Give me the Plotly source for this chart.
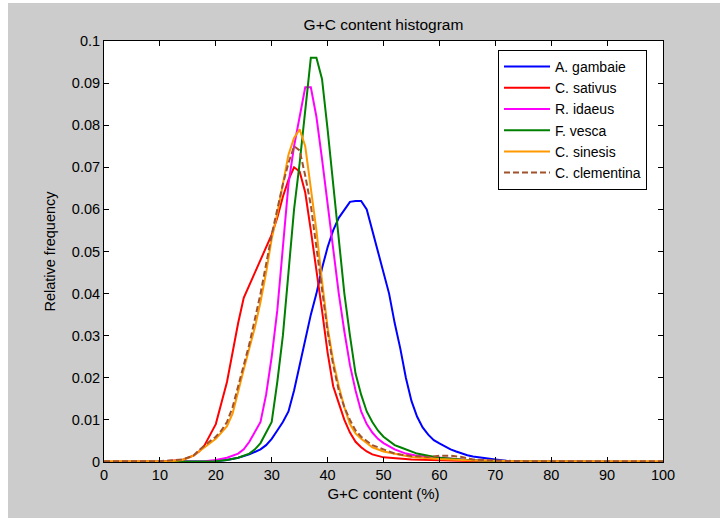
import plotly.graph_objects as go

# ---- data ----
series_names = ["A. gambaie", "C. sativus", "R. idaeus", "F. vesca", "C. sinesis", "C. clementina"]

x_gambaie = [0, 20, 22, 24, 26, 28, 29, 30, 31, 32, 33, 34, 35, 36, 37, 38, 39, 40, 41, 42, 43, 44, 45, 46,
             47, 48, 49, 50, 51, 52, 53, 54, 55, 56, 57, 58, 59, 60, 61, 62, 63, 64, 65, 66, 67, 68, 70, 72, 74, 100]
y_gambaie = [0, 0.0002, 0.0005, 0.001, 0.0018, 0.003, 0.004, 0.0055, 0.0075, 0.0095, 0.012, 0.017, 0.023,
             0.029, 0.035, 0.040, 0.046, 0.051, 0.055, 0.058, 0.060, 0.0618, 0.062, 0.062, 0.060, 0.055, 0.050,
             0.045, 0.040, 0.033, 0.027, 0.020, 0.0145, 0.0108, 0.0082, 0.0065, 0.0052, 0.0044, 0.0036, 0.003,
             0.0025, 0.002, 0.0016, 0.0013, 0.0011, 0.0009, 0.0006, 0.0003, 0.0001, 0]

x_sativus = [0, 10, 14, 15, 16, 17, 18, 19, 20, 21, 22, 23, 24, 25, 26, 27, 28, 29, 30, 31, 32, 33, 34, 35,
             36, 37, 38, 39, 40, 41, 42, 43, 44, 45, 46, 47, 48, 50, 55, 60, 65, 70, 72, 100]
y_sativus = [0, 0.0001, 0.0005, 0.001, 0.0015, 0.0025, 0.004, 0.0065, 0.009, 0.014, 0.019, 0.026, 0.033,
             0.039, 0.042, 0.045, 0.048, 0.051, 0.054, 0.058, 0.063, 0.067, 0.070, 0.069, 0.064, 0.055, 0.046,
             0.036, 0.026, 0.018, 0.014, 0.010, 0.007, 0.0048, 0.0035, 0.0025, 0.0018, 0.0011, 0.0006, 0.0004,
             0.0003, 0.0001, 0, 0]

x_idaeus = [0, 18, 20, 22, 24, 25, 26, 27, 28, 29, 30, 31, 32, 33, 34, 35, 36, 37, 38, 39, 40, 41, 42, 43,
            44, 45, 46, 47, 48, 49, 50, 52, 54, 56, 60, 65, 70, 100]
y_idaeus = [0, 0.0002, 0.0005, 0.001, 0.002, 0.003, 0.0048, 0.007, 0.0095, 0.016, 0.025, 0.036, 0.052,
            0.066, 0.075, 0.082, 0.089, 0.089, 0.082, 0.072, 0.061, 0.050, 0.040, 0.031, 0.023, 0.017, 0.012,
            0.009, 0.007, 0.0055, 0.0045, 0.003, 0.002, 0.0015, 0.001, 0.0005, 0.0002, 0]

x_vesca = [0, 20, 22, 24, 26, 27, 28, 29, 30, 31, 32, 33, 34, 35, 36, 37, 38, 39, 40, 41, 42, 43, 44, 45,
           46, 47, 48, 49, 50, 51, 52, 53, 54, 55, 56, 58, 60, 65, 70, 100]
y_vesca = [0, 0.0002, 0.0005, 0.001, 0.002, 0.003, 0.0045, 0.007, 0.0095, 0.019, 0.030, 0.045, 0.060, 0.071,
           0.083, 0.096, 0.096, 0.091, 0.079, 0.066, 0.052, 0.040, 0.030, 0.021, 0.016, 0.012, 0.0095, 0.0075,
           0.006, 0.005, 0.004, 0.0035, 0.003, 0.0025, 0.002, 0.0015, 0.001, 0.0005, 0.0002, 0]

x_sinesis = [0, 12, 14, 16, 17, 18, 19, 20, 21, 22, 23, 24, 25, 26, 27, 28, 29, 30, 31, 32, 33, 34, 35, 36,
             37, 38, 39, 40, 41, 42, 43, 44, 45, 46, 47, 48, 50, 52, 55, 60, 65, 70, 75, 100]
y_sinesis = [0.0002, 0.0002, 0.0005, 0.0015, 0.0025, 0.0035, 0.0045, 0.0055, 0.007, 0.0085, 0.0115, 0.017,
             0.022, 0.027, 0.032, 0.038, 0.045, 0.053, 0.059, 0.066, 0.073, 0.077, 0.079, 0.075, 0.065, 0.055,
             0.043, 0.032, 0.024, 0.018, 0.013, 0.009, 0.0068, 0.0055, 0.0045, 0.0035, 0.0025, 0.002, 0.0012,
             0.0007, 0.0004, 0.0003, 0.0002, 0.0002]

x_clementina = [0, 10, 14, 16, 17, 18, 19, 20, 21, 22, 23, 24, 25, 26, 27, 28, 29, 30, 31, 32, 33, 34, 35,
                36, 37, 38, 39, 40, 41, 42, 43, 44, 45, 46, 47, 48, 50, 52, 55, 58, 60, 62, 64, 66, 70, 75, 100]
y_clementina = [0.0002, 0.0002, 0.0006, 0.0015, 0.0028, 0.004, 0.005, 0.006, 0.0075, 0.0095, 0.013, 0.018,
                0.023, 0.028, 0.034, 0.040, 0.047, 0.054, 0.060, 0.066, 0.071, 0.075, 0.074, 0.068, 0.061,
                0.051, 0.040, 0.031, 0.023, 0.017, 0.013, 0.010, 0.0075, 0.006, 0.005, 0.004, 0.003, 0.002,
                0.0014, 0.0012, 0.0015, 0.0015, 0.0012, 0.0006, 0.0003, 0.0002, 0.0002]

x_ticks = [0, 10, 20, 30, 40, 50, 60, 70, 80, 90, 100]
y_ticks = [0, 0.01, 0.02, 0.03, 0.04, 0.05, 0.06, 0.07, 0.08, 0.09, 0.1]
y_tick_labels = ["0", "0.01", "0.02", "0.03", "0.04", "0.05", "0.06", "0.07", "0.08", "0.09", "0.1"]

# ---- styling ----
colors = ["#0000ff", "#ff0000", "#ff00ff", "#008000", "#ff9900", "#a0522d"]
dashes = ["solid", "solid", "solid", "solid", "solid", "6px,3px"]
xs = [x_gambaie, x_sativus, x_idaeus, x_vesca, x_sinesis, x_clementina]
ys = [y_gambaie, y_sativus, y_idaeus, y_vesca, y_sinesis, y_clementina]

FONT = "Liberation Sans, Arial, sans-serif"
# the figure sits at (8, 3) in the page, leaving a white strip left and top
OFF_X, OFF_Y = 8, 3
W, H = 720 - OFF_X, 518 - OFF_Y
ML, MR, MT, MB = 104 - OFF_X, 57, 41 - OFF_Y, 56
PW, PH = W - ML - MR, H - MT - MB

fig = go.Figure()
for name, x, y, c, d in zip(series_names, xs, ys, colors, dashes):
    fig.add_trace(go.Scatter(x=x, y=y, mode="lines", name=name,
                             line=dict(color=c, width=2, dash=d)))

axis_common = dict(showgrid=False, zeroline=False, showline=True, linecolor="black", linewidth=1,
                   mirror="allticks", ticks="inside", ticklen=5, tickcolor="black",
                   tickfont=dict(family=FONT, size=14.5, color="black"))

fig.update_layout(
    width=W, height=H,
    margin=dict(l=ML, r=MR, t=MT, b=MB),
    paper_bgcolor="#cccccc", plot_bgcolor="white",
    font=dict(family=FONT, size=14, color="black"),
    title=dict(text="G+C content histogram", x=(ML + PW / 2) / W, xanchor="center",
               y=1 - (25 - OFF_Y) / H, yanchor="middle", font=dict(family=FONT, size=15.5, color="black")),
    xaxis=dict(range=[0, 100], tickvals=x_ticks,
               title=dict(text="G+C content (%)", standoff=6, font=dict(family=FONT, size=15)),
               **axis_common),
    yaxis=dict(range=[0, 0.1], tickvals=y_ticks, ticktext=y_tick_labels,
               title=dict(text="Relative frequency", standoff=12, font=dict(family=FONT, size=14.5)),
               **axis_common),
    legend=dict(x=(498 - 104) / PW, y=1 - (50 - 41) / PH, xanchor="left", yanchor="top",
                bgcolor="white", bordercolor="black", borderwidth=1, itemwidth=46,
                font=dict(family=FONT, size=14, color="black")),
    showlegend=True,
)

fig.write_html("out.html", post_script="document.body.style.margin='3px 0 0 8px';")
